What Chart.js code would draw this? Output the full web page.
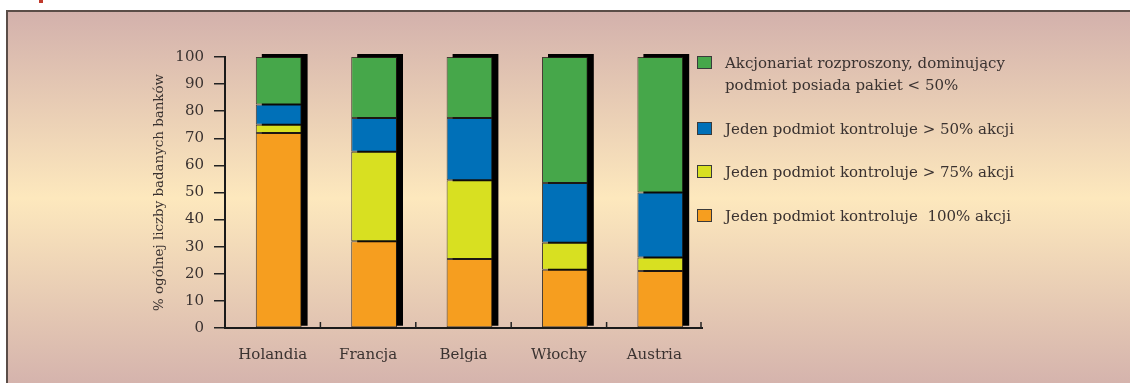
<!DOCTYPE html>
<html>
<head>
<meta charset="utf-8">
<script src="https://cdn.jsdelivr.net/npm/chart.js@4"></script>
<style>
  html, body { margin: 0; padding: 0; background: #fff; }
  #wrap { position: relative; width: 1130px; height: 383px; overflow: hidden; }
  #panel {
    position: absolute; left: 6px; top: 10px; width: 1130px; height: 380px;
    border-left: 2px solid #5a4d48; border-top: 2px solid #5a4d48;
    background: linear-gradient(to bottom, #d3b1ac 0%, #fde8bd 49%, #d3b1ac 100%);
  }
  #redmark { position: absolute; left: 39px; top: 0; width: 4px; height: 3px; background: #c0392b; }
  #chart { position: absolute; left: 0; top: 0; }
  #legend { position: absolute; left: 697px; top: 52px; font-family: "DejaVu Serif", serif; font-size: 15px; color: #3a3230; }
  .item { position: relative; padding-left: 28px; line-height: 22px; margin-bottom: 21.5px; white-space: pre; }
  .box { position: absolute; left: 0; top: 4px; width: 13px; height: 11px; border: 1px solid #3a3a3a; }
</style>
</head>
<body>
<div id="wrap">
  <div id="panel"></div>
  <div id="redmark"></div>
  <canvas id="chart" width="1130" height="383"></canvas>
  <div id="legend"></div>
</div>
<script>
const categories = ['Holandia', 'Francja', 'Belgia', 'Włochy', 'Austria'];
const yTicks = [0, 10, 20, 30, 40, 50, 60, 70, 80, 90, 100];

// shares of banks (%) by ownership structure
const control100 = [72, 32, 25.5, 21.5, 21];
const control75 = [3, 33, 29, 10, 5];
const control50 = [7.5, 12.5, 23, 22, 24];
const dispersed = [17.5, 22.5, 22.5, 46.5, 50];

const seriesLabels = [
  'Jeden podmiot kontroluje  100% akcji',
  'Jeden podmiot kontroluje > 75% akcji',
  'Jeden podmiot kontroluje > 50% akcji',
  'Akcjonariat rozproszony, dominujący\npodmiot posiada pakiet < 50%'
];
const seriesColors = ['#f69e1f', '#d8e021', '#0070b8', '#46a74a'];
const seriesData = [control100, control75, control50, dispersed];

// legend, top item = last series
const legend = document.getElementById('legend');
for (let i = seriesLabels.length - 1; i >= 0; i--) {
  const item = document.createElement('div');
  item.className = 'item';
  const box = document.createElement('span');
  box.className = 'box';
  box.style.background = seriesColors[i];
  item.appendChild(box);
  item.appendChild(document.createTextNode(seriesLabels[i]));
  legend.appendChild(item);
}

const SHIFT = 6;

const shadowPlugin = {
  id: 'shadow',
  beforeDatasetsDraw(chart) {
    const ctx = chart.ctx;
    ctx.save();
    ctx.translate(SHIFT, 0);
    const first = chart.getDatasetMeta(0).data;
    const last = chart.getDatasetMeta(chart.data.datasets.length - 1).data;
    ctx.fillStyle = '#000';
    for (let i = 0; i < first.length; i++) {
      const b = first[i];
      const top = last[i].y;
      const w = b.width;
      ctx.fillRect(b.x - w / 2 + 6, top - 3, w, b.base - 1.5 - (top - 3));
    }
  },
  afterDatasetsDraw(chart) {
    chart.ctx.restore();
  },
  afterDraw(chart) {
    const ctx = chart.ctx;
    const xs = chart.scales.x;
    ctx.save();
    ctx.strokeStyle = '#222';
    ctx.lineWidth = 1.5;
    for (let i = 0; i < categories.length; i++) {
      let x;
      if (i < categories.length - 1) {
        x = (xs.getPixelForValue(i) + xs.getPixelForValue(i + 1)) / 2;
      } else {
        x = xs.right - 1;
      }
      ctx.beginPath();
      ctx.moveTo(x, xs.top - 6);
      ctx.lineTo(x, xs.top);
      ctx.stroke();
    }
    ctx.restore();
  }
};

new Chart(document.getElementById('chart'), {
  type: 'bar',
  data: {
    labels: categories,
    datasets: seriesData.map((d, i) => ({
      label: seriesLabels[i],
      data: d,
      backgroundColor: seriesColors[i],
      borderColor: 'rgba(35,28,22,0.8)',
      borderWidth: 1,
      borderSkipped: false,
      categoryPercentage: 1,
      barPercentage: 0.48,
      clip: false
    }))
  },
  options: {
    responsive: false,
    animation: false,
    layout: { padding: { left: 147, right: 428, top: 57, bottom: 0 } },
    plugins: { legend: { display: false }, tooltip: { enabled: false } },
    scales: {
      x: {
        stacked: true,
        grid: { display: false },
        border: { display: true, color: '#1a1a1a', width: 2 },
        ticks: { color: '#3a3230', padding: 10, font: { family: 'DejaVu Serif', size: 15 } },
        afterFit(scale) { scale.height = 55; }
      },
      y: {
        stacked: true,
        min: 0,
        max: 100,
        afterBuildTicks(scale) { scale.ticks = yTicks.map(v => ({ value: v })); },
        grid: { drawOnChartArea: false, tickLength: 11, color: '#222', lineWidth: 1.5 },
        border: { display: true, color: '#1a1a1a', width: 2 },
        ticks: { color: '#3a3230', padding: 10, font: { family: 'DejaVu Serif', size: 15 } },
        title: {
          display: true,
          text: '% ogólnej liczby badanych banków',
          color: '#3a3230',
          font: { family: 'DejaVu Serif', size: 13.4 },
          padding: { top: 4, bottom: 4 }
        },
        afterFit(scale) { scale.width = 78; }
      }
    }
  },
  plugins: [shadowPlugin]
});
</script>
</body>
</html>
